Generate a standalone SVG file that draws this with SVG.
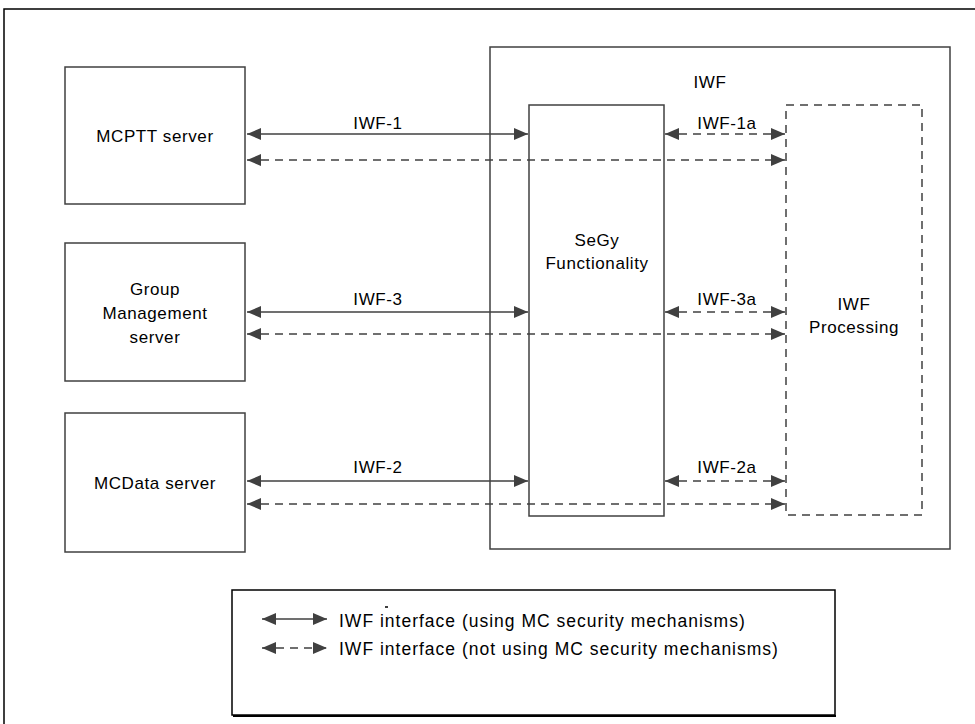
<svg xmlns="http://www.w3.org/2000/svg" width="975" height="724" viewBox="0 0 975 724">
<defs>
<marker id="ah" viewBox="0 0 14 12" refX="14" refY="6" markerWidth="14" markerHeight="12" markerUnits="userSpaceOnUse" orient="auto-start-reverse">
<path d="M0,0 L14,6 L0,12 Z" fill="#404040"/>
</marker>
<style>
.box{fill:#fff;stroke:#404040;stroke-width:1.5}
.dbox{fill:none;stroke:#404040;stroke-width:1.5;stroke-dasharray:8,6}
.t{font-family:"Liberation Sans",Arial,sans-serif;font-size:17px;fill:#000;text-anchor:middle;letter-spacing:0.6px}
.lt{font-family:"Liberation Sans",Arial,sans-serif;font-size:17.5px;fill:#000;letter-spacing:1px}
.s{stroke:#404040;stroke-width:1.5;fill:none;marker-start:url(#ah);marker-end:url(#ah)}
.d{stroke:#404040;stroke-width:1.5;fill:none;stroke-dasharray:8,6;marker-start:url(#ah);marker-end:url(#ah)}
</style>
</defs>
<rect width="975" height="724" fill="#fff"/>
<rect id="frame" x="4" y="9" width="1000" height="800" fill="none" stroke="#000" stroke-width="1.5"/>
<g id="iwf">
<rect class="box" x="490" y="47" width="460" height="502"/>
<text class="t" x="710" y="88">IWF</text>
</g>
<g id="mcptt">
<rect class="box" x="65" y="67" width="180" height="137"/>
<text class="t" x="155" y="142">MCPTT server</text>
</g>
<g id="gms">
<rect class="box" x="65" y="243" width="180" height="138"/>
<text class="t" x="155" y="295">Group</text>
<text class="t" x="155" y="319">Management</text>
<text class="t" x="155" y="343">server</text>
</g>
<g id="mcdata">
<rect class="box" x="65" y="413" width="180" height="139"/>
<text class="t" x="155" y="489">MCData server</text>
</g>
<g id="segy">
<rect class="box" x="529" y="105" width="135" height="411"/>
<text class="t" x="597" y="246">SeGy</text>
<text class="t" x="597" y="269">Functionality</text>
</g>
<g id="proc">
<rect class="dbox" x="786" y="105" width="136" height="410"/>
<text class="t" x="854" y="310">IWF</text>
<text class="t" x="854" y="333">Processing</text>
</g>
<g id="connectors">
<line class="s" x1="247" y1="134" x2="528" y2="134"/>
<line class="d" x1="247" y1="160" x2="785" y2="160"/>
<line class="d" x1="665" y1="134" x2="785" y2="134"/>
<line class="s" x1="247" y1="312" x2="528" y2="312"/>
<line class="d" x1="247" y1="334" x2="785" y2="334"/>
<line class="d" x1="665" y1="312" x2="785" y2="312"/>
<line class="s" x1="247" y1="481" x2="528" y2="481"/>
<line class="d" x1="247" y1="504" x2="785" y2="504"/>
<line class="d" x1="665" y1="481" x2="785" y2="481"/>
<text class="t" x="378" y="129">IWF-1</text>
<text class="t" x="378" y="305">IWF-3</text>
<text class="t" x="378" y="473">IWF-2</text>
<text class="t" x="727" y="129">IWF-1a</text>
<text class="t" x="727" y="305">IWF-3a</text>
<text class="t" x="727" y="473">IWF-2a</text>
</g>
<g id="legend">
<rect x="232" y="590" width="603" height="125" fill="#fff" stroke="#000" stroke-width="1.5"/>
<line x1="233" y1="716" x2="836" y2="716" stroke="#000" stroke-width="2"/>
<line class="s" x1="262" y1="619" x2="327" y2="619"/>
<line class="d" x1="262" y1="648" x2="327" y2="648"/>
<line x1="385" y1="607" x2="388" y2="607" stroke="#000" stroke-width="1.5"/>
<text class="lt" x="339" y="627">IWF interface (using MC security mechanisms)</text>
<text class="lt" x="339" y="655">IWF interface (not using MC security mechanisms)</text>
</g>
</svg>
